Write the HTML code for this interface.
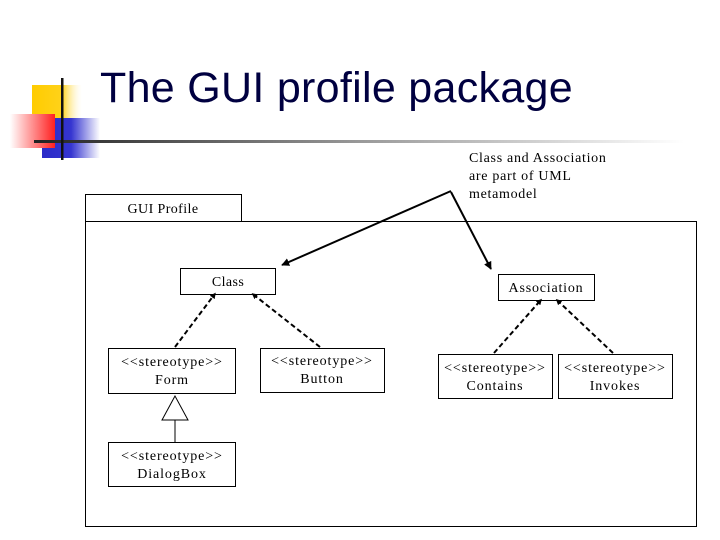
<!DOCTYPE html>
<html><head><meta charset="utf-8"><style>
html,body{margin:0;padding:0;background:#fff;}
svg{display:block;}
text{font-family:"Liberation Serif",serif;font-size:14px;fill:#000;letter-spacing:0.4px;}
.s{font-size:14px;letter-spacing:0.9px;}
</style></head><body>
<svg width="720" height="540" viewBox="0 0 720 540" xmlns="http://www.w3.org/2000/svg">
<defs>
<linearGradient id="yel" x1="0" x2="1"><stop offset="0" stop-color="#ffcc00"/><stop offset="0.6" stop-color="#ffd21a"/><stop offset="1" stop-color="#fff" stop-opacity="0.2"/></linearGradient>
<linearGradient id="red" x1="0" x2="1"><stop offset="0" stop-color="#fff"/><stop offset="1" stop-color="#ff2020"/></linearGradient>
<linearGradient id="blu" x1="0" x2="1"><stop offset="0" stop-color="#2b2bc8"/><stop offset="0.5" stop-color="#3535d0"/><stop offset="1" stop-color="#fff"/></linearGradient>
<linearGradient id="hl" x1="0" x2="1"><stop offset="0" stop-color="#222"/><stop offset="0.5" stop-color="#999"/><stop offset="1" stop-color="#fff"/></linearGradient>
<marker id="ah" viewBox="0 0 10 10" refX="9" refY="5" markerWidth="4" markerHeight="4" orient="auto"><path d="M0,0L10,5L0,10z" fill="#000"/></marker>
<marker id="dot" viewBox="0 0 10 10" refX="5" refY="5" markerWidth="3" markerHeight="3" orient="auto"><path d="M0,0L10,5L0,10z" fill="#000"/></marker>
</defs>
<rect x="32" y="85" width="50" height="33" fill="url(#yel)"/>
<rect x="42" y="118" width="58" height="40" fill="url(#blu)"/>
<rect x="10" y="114" width="45" height="34" fill="url(#red)"/>
<rect x="34" y="140" width="650" height="3" fill="url(#hl)"/>
<rect x="61" y="78" width="2.5" height="82" fill="#111"/>
<text x="100" y="102" style="font-family:'Liberation Sans',sans-serif;font-size:43px;fill:#000040;letter-spacing:0.3px">The GUI profile package</text>

<text x="469" y="162" style="letter-spacing:0.7px">Class and Association</text>
<text x="469" y="180" style="letter-spacing:0.7px">are part of UML</text>
<text x="469" y="198" style="letter-spacing:0.7px">metamodel</text>

<g fill="none" stroke="#000" stroke-width="1">
<rect x="85.5" y="194.5" width="156" height="27"/>
<rect x="85.5" y="221.5" width="611" height="305"/>
<rect x="180.5" y="268.5" width="95" height="26"/>
<rect x="108.5" y="348.5" width="127" height="45"/>
<rect x="260.5" y="348.5" width="124" height="44"/>
<rect x="108.5" y="442.5" width="127" height="44"/>
<rect x="498.5" y="274.5" width="96" height="26"/>
<rect x="438.5" y="354.5" width="114" height="44"/>
<rect x="558.5" y="354.5" width="114" height="44"/>
<path d="M175,396 L162,420 L188,420 Z M175,420 L175,442"/>
</g>
<g stroke="#000" stroke-width="2" fill="none">
<line x1="451" y1="191" x2="282" y2="265" marker-end="url(#ah)"/>
<line x1="451" y1="192" x2="491" y2="269" marker-end="url(#ah)"/>
<g stroke-dasharray="5,3">
<line x1="175" y1="347" x2="214" y2="295" marker-end="url(#dot)"/>
<line x1="320" y1="347" x2="254" y2="295" marker-end="url(#dot)"/>
<line x1="494" y1="353" x2="540" y2="301" marker-end="url(#dot)"/>
<line x1="613" y1="353" x2="558" y2="301" marker-end="url(#dot)"/>
</g>
</g>
<text x="163" y="213" text-anchor="middle">GUI Profile</text>
<text x="228" y="286" text-anchor="middle">Class</text>
<text x="546" y="292" text-anchor="middle" style="letter-spacing:0.8px">Association</text>
<text x="172" y="366" text-anchor="middle" class="s">&lt;&lt;stereotype&gt;&gt;</text>
<text x="172" y="384" text-anchor="middle" class="s">Form</text>
<text x="322" y="365" text-anchor="middle" class="s">&lt;&lt;stereotype&gt;&gt;</text>
<text x="322" y="383" text-anchor="middle" class="s">Button</text>
<text x="172" y="460" text-anchor="middle" class="s">&lt;&lt;stereotype&gt;&gt;</text>
<text x="172" y="478" text-anchor="middle" class="s">DialogBox</text>
<text x="495" y="372" text-anchor="middle" class="s">&lt;&lt;stereotype&gt;&gt;</text>
<text x="495" y="390" text-anchor="middle" class="s">Contains</text>
<text x="615" y="372" text-anchor="middle" class="s">&lt;&lt;stereotype&gt;&gt;</text>
<text x="615" y="390" text-anchor="middle" class="s">Invokes</text>
</svg>
</body></html>
